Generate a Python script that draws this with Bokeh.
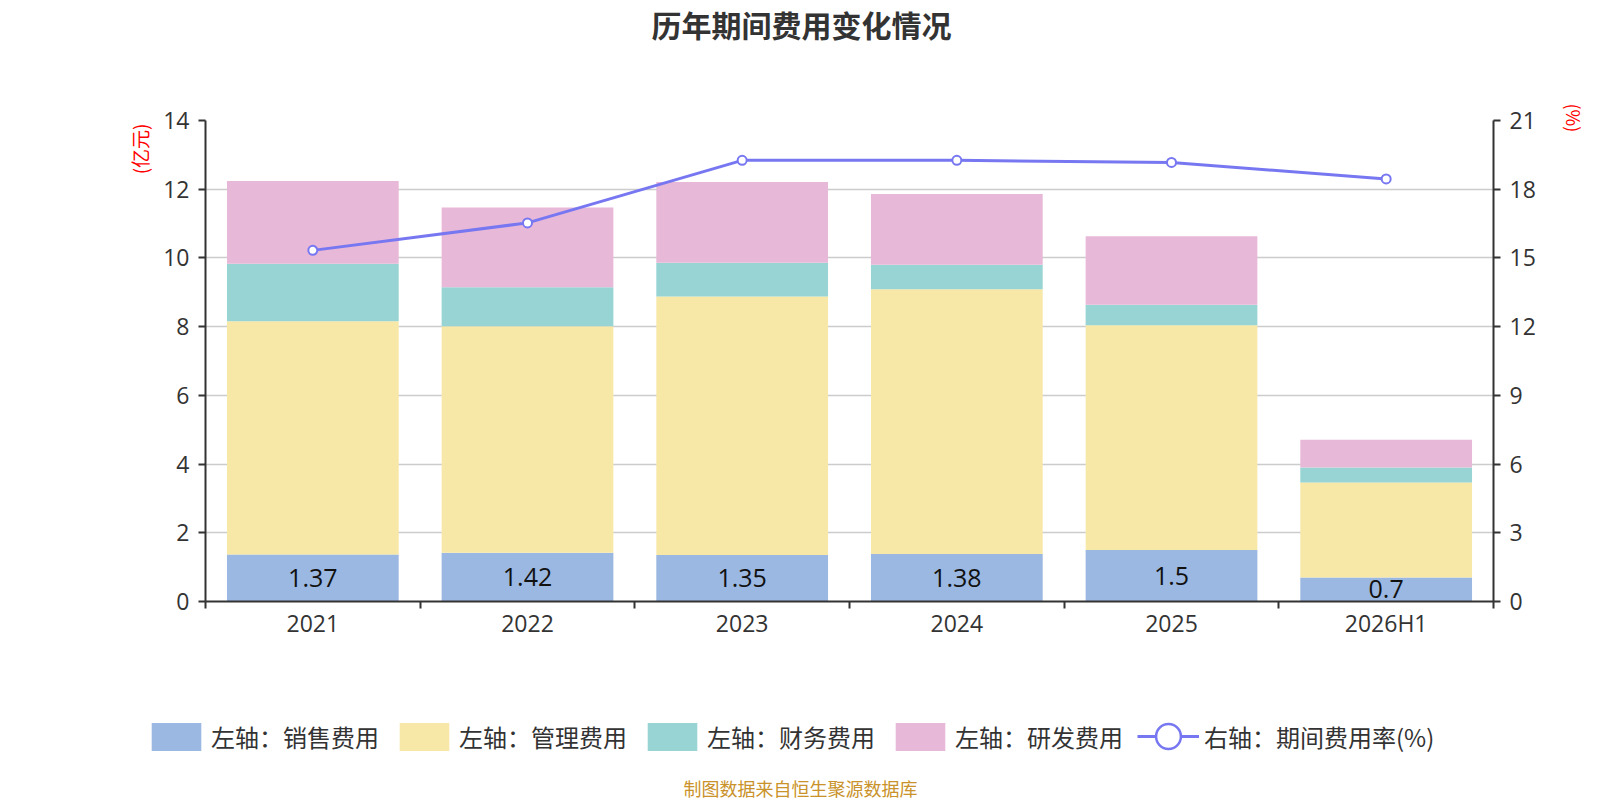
import numpy as np
from bokeh.plotting import figure
from bokeh.layouts import column
from bokeh.models import (Range1d, LinearAxis, FixedTicker, ColumnDataSource, LabelSet,
                          Label, Title, Legend, LegendItem, Grid)
from bokeh.core.properties import value
from bokeh.embed import file_html
from bokeh.resources import INLINE

categories = ["2021", "2022", "2023", "2024", "2025", "2026H1"]
sales = [1.37, 1.42, 1.35, 1.38, 1.5, 0.7]
admin = [6.79, 6.59, 7.53, 7.71, 6.54, 2.76]
finance = [1.67, 1.14, 0.98, 0.71, 0.60, 0.44]
rnd = [2.41, 2.32, 2.35, 2.06, 1.99, 0.81]
rate = [15.33, 16.53, 19.26, 19.26, 19.17, 18.45]
left_ticks = [0, 2, 4, 6, 8, 10, 12, 14]
right_ticks = [0, 3, 6, 9, 12, 15, 18, 21]

series_names = ["左轴：销售费用", "左轴：管理费用", "左轴：财务费用", "左轴：研发费用"]
line_name = "右轴：期间费用率(%)"
colors = ["#9bb8e2", "#f8e8a8", "#98d4d4", "#e8b8d8"]
line_color = "#7777f2"

NUM = "Open Sans"
CJK = "Noto Sans CJK SC"

n = len(categories)
xs = (np.arange(n) + 0.5).tolist()

src = ColumnDataSource(dict(x=xs, sales=sales, admin=admin, finance=finance, rnd=rnd,
                            rate=rate, sales_mid=[s / 2 for s in sales],
                            sales_txt=[f"{s:g}" for s in sales]))

# ---------------- main chart ----------------
p = figure(width=1600, height=680, output_backend="svg", toolbar_location=None,
           x_range=Range1d(0, n), y_range=Range1d(0, 14),
           min_border_left=205, min_border_right=107, min_border_top=120,
           min_border_bottom=79, outline_line_color=None, x_axis_type=None,
           y_axis_type=None, frame_align=False)
p.background_fill_color = "white"
p.border_fill_color = "white"
p.extra_y_ranges = {"right": Range1d(0, 21)}

# x axis: labels at category centres, ticks at category boundaries
xaxis = LinearAxis(ticker=FixedTicker(ticks=xs, minor_ticks=list(range(n + 1))),
                   major_label_overrides={x: c for x, c in zip(xs, categories)})
xaxis.major_tick_line_color = None
xaxis.major_tick_in = 0
xaxis.major_tick_out = 0
xaxis.minor_tick_in = 0
xaxis.minor_tick_out = 7
xaxis.minor_tick_line_color = "#333333"
xaxis.minor_tick_line_width = 2
xaxis.axis_line_color = "#333333"
xaxis.axis_line_width = 2
xaxis.major_label_text_font = NUM
xaxis.major_label_text_font_size = "23px"
xaxis.major_label_text_color = "#333333"
xaxis.major_label_standoff = -2
p.add_layout(xaxis, "below")

laxis = LinearAxis(ticker=FixedTicker(ticks=left_ticks))
raxis = LinearAxis(ticker=FixedTicker(ticks=right_ticks), y_range_name="right")
for ax in (laxis, raxis):
    ax.minor_tick_line_color = None
    ax.major_tick_in = 0
    ax.major_tick_out = 7
    ax.major_tick_line_color = "#333333"
    ax.major_tick_line_width = 2
    ax.axis_line_color = "#333333"
    ax.axis_line_width = 2
    ax.major_label_text_font = NUM
    ax.major_label_text_font_size = "23px"
    ax.major_label_text_color = "#333333"
    ax.major_label_standoff = 9
p.add_layout(laxis, "left")
p.add_layout(raxis, "right")

p.add_layout(Grid(dimension=1, ticker=laxis.ticker, grid_line_color="#cccccc",
                  grid_line_width=1.5), "center")

# stacked bars
bars = p.vbar_stack(["sales", "admin", "finance", "rnd"], x="x", width=0.8, source=src,
                    color=colors, line_color=None)

# rate line
p.line("x", "rate", source=src, y_range_name="right", line_color=line_color, line_width=3)
p.scatter("x", "rate", source=src, y_range_name="right", size=9, fill_color="white",
          line_color=line_color, line_width=2)

# value labels on the first series
p.add_layout(LabelSet(x="x", y="sales_mid", text="sales_txt", source=src,
                      text_align="center", text_baseline="middle", text_font=value(NUM),
                      text_font_size="25px", text_color="#111111"))


def spacer(size):
    return Title(text=" ", text_font=CJK, text_font_size=size, standoff=0)


p.add_layout(spacer("49px"), "above")
p.add_layout(Title(text="历年期间费用变化情况", align="left", offset=446, text_font=CJK,
                   text_font_size="30px", text_font_style="bold", text_color="#333333",
                   vertical_align="top", standoff=0), "above")
p.add_layout(spacer("4px"), "left")
p.add_layout(Title(text="(亿元)", align="right", offset=3, text_font=CJK,
                   text_font_size="19px", text_font_style="normal", text_color="red",
                   standoff=0), "left")
p.add_layout(spacer("14px"), "right")
p.add_layout(Title(text="(%)", align="left", offset=-17, text_font=CJK,
                   text_font_size="18px", text_font_style="normal", text_color="red",
                   standoff=0), "right")

# ---------------- legend + footer strip ----------------
W, H = 1600, 120
q = figure(width=W, height=H, output_backend="svg", toolbar_location=None,
           x_range=Range1d(0, W), y_range=Range1d(0, H), min_border=0,
           outline_line_color=None, x_axis_type=None, y_axis_type=None,
           frame_align=False)
q.grid.visible = False
q.background_fill_color = "white"
q.border_fill_color = "white"

# legend proxies: one point each, placed outside the visible range
off = ColumnDataSource(dict(x=[-1000, -999], y=[-1000, -1000]))
leg_rs = [q.vbar(x="x", top="y", width=1, source=off, fill_color=c, line_color=None)
          for c in colors]
leg_line = q.line(x="x", y="y", source=off, line_color=line_color, line_width=3)
leg_mark = q.scatter(x="x", y="y", source=off, size=24, fill_color="white",
                     line_color=line_color, line_width=2.5)

common = dict(orientation="horizontal", label_text_font=CJK, label_text_font_size="24px",
              label_text_color="#333333", label_height=28, padding=0, margin=0,
              border_line_color=None, background_fill_alpha=0)

bar_legend = Legend(items=[LegendItem(label=nm, renderers=[r])
                           for nm, r in zip(series_names, leg_rs)],
                    location=(145, 46), glyph_width=62, glyph_height=35, spacing=14,
                    label_standoff=4, **common)
q.add_layout(bar_legend, "center")

line_legend = Legend(items=[LegendItem(label=line_name, renderers=[leg_line, leg_mark])],
                     location=(1137, 33), glyph_width=62, glyph_height=62,
                     label_standoff=5, **common)
q.add_layout(line_legend, "center")

q.add_layout(Label(x=800, y=13, text="制图数据来自恒生聚源数据库", text_align="center",
                   text_baseline="middle", text_font=CJK, text_font_size="18px",
                   text_color="#c9922a"))

open("out.html", "w").write(file_html(column(p, q, spacing=0), INLINE))
